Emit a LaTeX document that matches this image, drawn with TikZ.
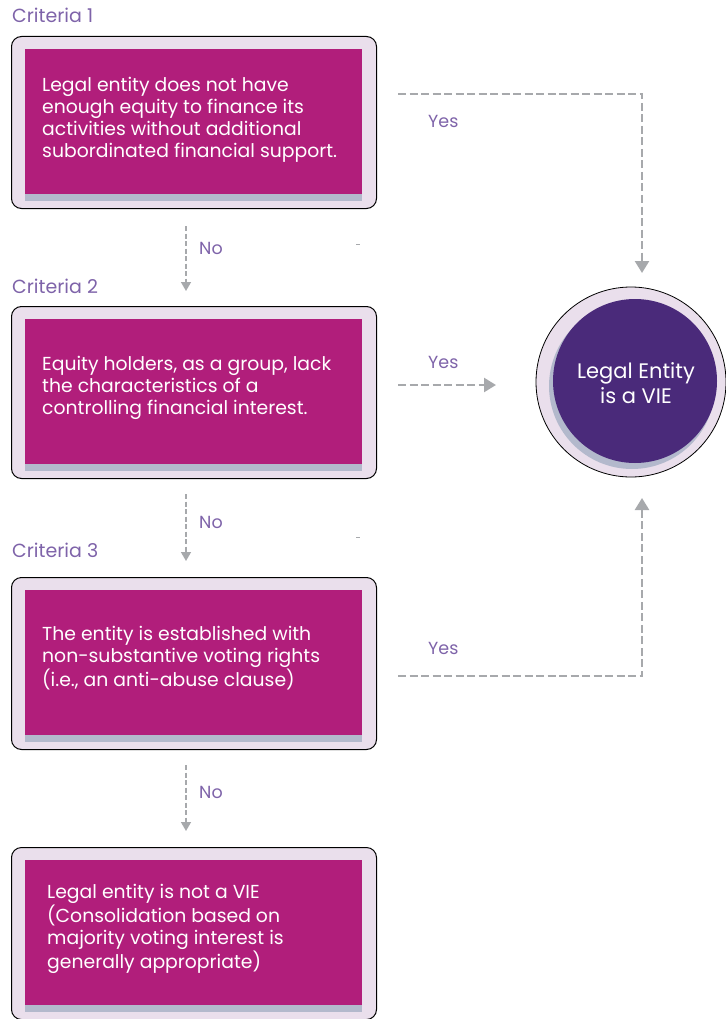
\documentclass[tikz,border=0pt]{standalone}
\usepackage{fontspec}
\setmainfont{Poppins}
\usetikzlibrary{arrows.meta}
\definecolor{mag}{HTML}{B11E7B}
\definecolor{lav}{HTML}{EADFEC}
\definecolor{stripc}{HTML}{B3B9CC}
\definecolor{vie}{HTML}{4A2A7A}
\definecolor{lbl}{HTML}{7E63A9}
\definecolor{con}{HTML}{A7A9AC}
\begin{document}
\begin{tikzpicture}[x=1pt,y=-1pt,
  outerbox/.style={draw=black, line width=1pt, rounded corners=10pt, fill=lav, minimum width=365pt, minimum height=172pt, inner sep=0pt, anchor=north west},
  boxtext/.style={anchor=west, align=left, text=white, font=\fontsize{18.8}{22}\selectfont, inner sep=0pt},
  crit/.style={anchor=west, text=lbl, font=\fontsize{19}{20}\selectfont, inner sep=0pt},
  ans/.style={anchor=west, text=lbl, font=\fontsize{17.5}{18}\selectfont, inner sep=0pt},
  conn/.style={draw=con, line width=2.5pt, dash pattern=on 8pt off 3.5pt, -{Triangle[width=14pt,length=12pt]}},
  thinconn/.style={draw=con, line width=1.5pt, dash pattern=on 5pt off 2.5pt, -{Triangle[width=10pt,length=9pt]}},
  tick/.style={draw=con, line width=1pt}]
\useasboundingbox (0,0) rectangle (725,1019);

% criteria labels
\node[crit] (c1) at (12,15) {Criteria 1};
\node[crit] (c2) at (12,286) {Criteria 2};
\node[crit] (c3) at (12,550) {Criteria 3};

% boxes
\foreach \y/\n in {36/b1,306/b2,577/b3,847/b4}{
  \node[outerbox] (\n) at (11,\y) {};
  \fill[mag] (25,\y+13) rectangle (362,\y+158);
  \fill[stripc] (25,\y+158) rectangle (362,\y+165);
}

\node[boxtext] (t1) at (42,120) {Legal entity does not have\\enough equity to finance its\\activities without additional\\subordinated financial support.};
\node[boxtext] (t2) at (42,388) {Equity holders, as a group, lack\\the characteristics of a\\controlling financial interest.};
\node[boxtext] (t3) at (42,658) {The entity is established with\\non-substantive voting rights\\(i.e., an anti-abuse clause)};
\node[boxtext] (t4) at (47,929) {Legal entity is not a VIE\\(Consolidation based on\\majority voting interest is\\generally appropriate)};

% VIE circle
\node[circle, draw=black, line width=0.8pt, fill=lav, minimum size=190pt, inner sep=0pt] (vo) at (631,382) {};
\fill[stripc] (632,386) circle (83);
\fill[vie] (635,381) circle (82);
\node[text=white, align=center, font=\fontsize{21}{25}\selectfont, inner sep=0pt] (vt) at (636,383) {Legal Entity\\is a VIE};

% No arrows
\coordinate (n1a) at (186,226); \coordinate (n1b) at (186,291);
\coordinate (n2a) at (186,494); \coordinate (n2b) at (186,561);
\coordinate (n3a) at (186,765); \coordinate (n3b) at (186,831);
\draw[thinconn] (n1a) -- (n1b);
\draw[thinconn] (n2a) -- (n2b);
\draw[thinconn] (n3a) -- (n3b);
\node[ans] (no1) at (199,248) {No};
\node[ans] (no2) at (199,522) {No};
\node[ans] (no3) at (199,792) {No};

% Yes arrows
\coordinate (y1a) at (398,94); \coordinate (y1b) at (642,273);
\coordinate (y2a) at (398,385); \coordinate (y2b) at (496,385);
\coordinate (y3a) at (398,676); \coordinate (y3b) at (642,498);
\draw[conn] (y1a) -| (y1b);
\draw[conn] (y2a) -- (y2b);
\draw[conn] (y3a) -| (y3b);
\node[ans] (ye1) at (428,121) {Yes};
\node[ans] (ye2) at (428,362) {Yes};
\node[ans] (ye3) at (428,648) {Yes};

% small marks
\coordinate (m1a) at (356,244); \coordinate (m1b) at (360,244);
\coordinate (m2a) at (356,537); \coordinate (m2b) at (360,537);
\draw[tick] (m1a) -- (m1b);
\draw[tick] (m2a) -- (m2b);
\end{tikzpicture}
\end{document}
